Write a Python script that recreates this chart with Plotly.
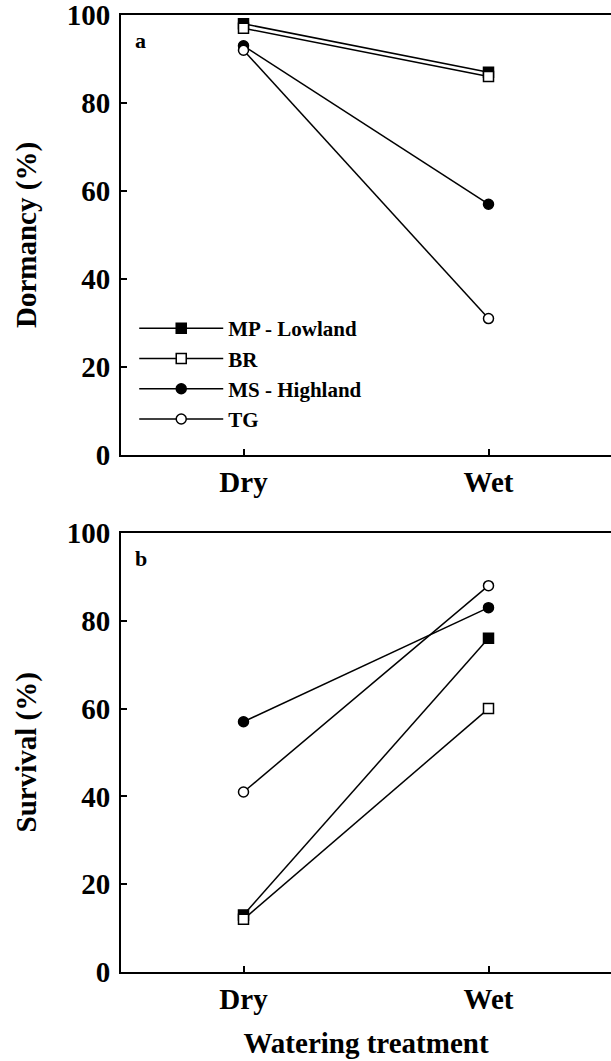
import plotly.graph_objects as go
from plotly.subplots import make_subplots

treatments = ["Dry", "Wet"]
populations = ["MP - Lowland", "BR", "MS - Highland", "TG"]
dormancy = {
    "MP - Lowland": [98, 87],
    "BR": [97, 86],
    "MS - Highland": [93, 57],
    "TG": [92, 31],
}
survival = {
    "MP - Lowland": [13, 76],
    "BR": [12, 60],
    "MS - Highland": [57, 83],
    "TG": [41, 88],
}
y_ticks = [0, 20, 40, 60, 80, 100]

styles = {
    "MP - Lowland": dict(symbol="square", color="black"),
    "BR": dict(symbol="square", color="white"),
    "MS - Highland": dict(symbol="circle", color="black"),
    "TG": dict(symbol="circle", color="white"),
}

FONT = "Liberation Serif"
W, H = 611, 1061
ml, mr, mt, mb = 121, 0, 15, 89
ph = H - mt - mb
pw = W - ml - mr
bottom_fig = H - mb  # pixel of paper y=0

fig = make_subplots(rows=2, cols=1)
xidx = [0, 1]
for row, data in ((1, dormancy), (2, survival)):
    for p in populations:
        st = styles[p]
        fig.add_trace(go.Scatter(
            x=xidx, y=data[p], mode="lines+markers", name=p,
            showlegend=(row == 1),
            line=dict(color="black", width=1.5),
            marker=dict(symbol=st["symbol"], color=st["color"], size=10,
                        line=dict(color="black", width=1.5)),
        ), row=row, col=1)

top_dom = [(bottom_fig - 455) / ph, 1.0]
bot_dom = [0.0, (bottom_fig - 533) / ph]

axis_common = dict(showline=True, linecolor="black", linewidth=2,
                   ticks="inside", ticklen=6, tickwidth=1.5, tickcolor="black",
                   showgrid=False, zeroline=False, automargin=False,
                   ticklabeloverflow="allow",
                   tickfont=dict(family=FONT, size=29, color="black", weight="bold"))

for i, dom in ((1, top_dom), (2, bot_dom)):
    fig.update_xaxes(row=i, col=1, range=[-0.5, 1.5], tickvals=xidx, ticktext=treatments,
                     mirror=True, ticklabelstandoff=0, **axis_common)
    fig.update_yaxes(row=i, col=1, range=[0, 100], tickvals=y_ticks, domain=dom,
                     ticklabelstandoff=3, **axis_common)

title_font = dict(family=FONT, size=29, color="black", weight="bold")
fig.update_xaxes(row=2, col=1, title=dict(text="Watering treatment", standoff=19, font=title_font))

ytitle_x = (26 - ml) / pw
fig.add_annotation(text="Dormancy (%)", xref="paper", yref="y domain", x=ytitle_x, y=0.5,
                   xanchor="center", yanchor="middle", textangle=-90, showarrow=False,
                   font=title_font)
fig.add_annotation(text="Survival (%)", xref="paper", yref="y2 domain", x=ytitle_x, y=0.5,
                   xanchor="center", yanchor="middle", textangle=-90, showarrow=False,
                   font=title_font)

lab_font = dict(family=FONT, size=22, color="black", weight="bold")
fig.add_annotation(text="a", xref="x domain", yref="y domain", x=0.025, y=0.975,
                   xanchor="left", yanchor="top", showarrow=False, font=lab_font)
fig.add_annotation(text="b", xref="x2 domain", yref="y2 domain", x=0.025, y=0.975,
                   xanchor="left", yanchor="top", showarrow=False, font=lab_font)

fig.update_layout(
    width=W, height=H,
    margin=dict(l=ml, r=mr, t=mt, b=mb, autoexpand=False),
    paper_bgcolor="white", plot_bgcolor="white",
    font=dict(family=FONT, color="black"),
    legend=dict(x=0.027, y=(bottom_fig - 308) / ph, xanchor="left", yanchor="top",
                bgcolor="rgba(0,0,0,0)", tracegroupgap=0, itemwidth=84,
                font=dict(family=FONT, size=21, color="black", weight="bold")),
)

fig.write_html("out.html", config={"displayModeBar": False},
               post_script="document.body.style.margin='0';")
